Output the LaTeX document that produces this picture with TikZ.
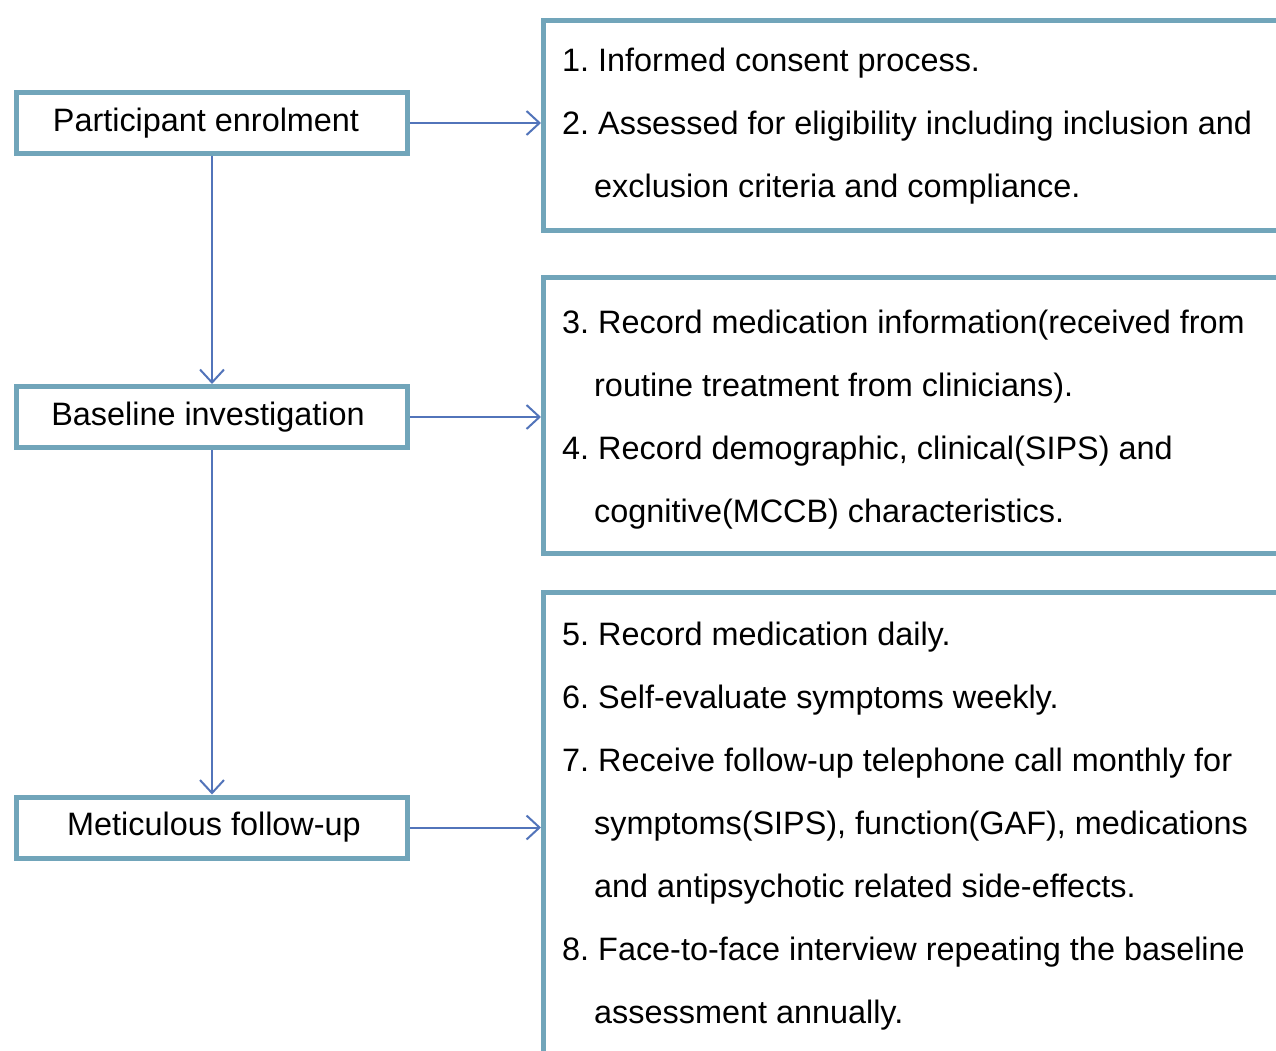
\documentclass[tikz,border=0pt]{standalone}
\usepackage{fontspec}
\setmainfont{Liberation Sans}
\usetikzlibrary{arrows.meta}
\definecolor{boxc}{RGB}{113,165,186}
\definecolor{arrc}{RGB}{82,116,186}
\frenchspacing
\begin{document}
\begin{tikzpicture}[x=1pt,y=-1pt,
  lbox/.style={draw=boxc, line width=5pt, minimum width=391pt, minimum height=61pt, inner sep=0pt, font=\fontsize{32.4}{38}\selectfont},
  rbox/.style={draw=boxc, line width=5pt, anchor=north west, inner sep=0pt},
  arr/.style={draw=arrc, line width=2pt, -{Straight Barb[length=13pt,width=24pt,line width=2pt]}},
  txt/.style={anchor=base west, inner sep=0pt, font=\fontsize{32.4}{38}\selectfont}]
\useasboundingbox (0,0) rectangle (1276,1051);
\clip (0,0) rectangle (1276,1051);
\fill[white] (0,0) rectangle (1276,1051);
% left boxes
\node[lbox] (e1) at (212,123) {Participant enrolment\hspace*{12pt}};
\node[lbox] (e2) at (212,417) {Baseline investigation\hspace*{8pt}};
\node[lbox] (e3) at (212,827.5) {\hspace*{4pt}Meticulous follow-up};
% right boxes (open beyond the page)
\node[rbox, minimum width=800pt, minimum height=210pt] (r1) at (541,18) {};
\node[rbox, minimum width=800pt, minimum height=276pt] (r2) at (541,275) {};
\node[rbox, minimum width=800pt, minimum height=600pt] (r3) at (541,590) {};
% connectors
\draw[arr] (e1.south) -- (e2.north);
\draw[arr] (e2.south) -- (e3.north);
\draw[arr] (e1.east) -- (e1.east -| r1.west);
\draw[arr] (e2.east) -- (e2.east -| r2.west);
\draw[arr] (e3.east) -- (e3.east -| r3.west);
% texts
\node[txt] (t1) at (562,71.5) {1. Informed consent process.};
\node[txt] (t2) at (562,134.5) {2. Assessed for eligibility including inclusion and};
\node[txt] (t3) at (594,197.5) {exclusion criteria and compliance.};
\node[txt] (t4) at (562,333.5) {3. Record medication information(received from};
\node[txt] (t5) at (594,396.5) {routine treatment from clinicians).};
\node[txt] (t6) at (562,459.5) {4. Record demographic, clinical(SIPS) and};
\node[txt] (t7) at (594,522.5) {cognitive(MCCB) characteristics.};
\node[txt] (t8) at (562,645.5) {5. Record medication daily.};
\node[txt] (t9) at (562,708.5) {6. Self-evaluate symptoms weekly.};
\node[txt] (t10) at (562,771.5) {7. Receive follow-up telephone call monthly for};
\node[txt] (t11) at (594,834.5) {symptoms(SIPS), function(GAF), medications};
\node[txt] (t12) at (594,897.5) {and antipsychotic related side-effects.};
\node[txt] (t13) at (562,960.5) {8. Face-to-face interview repeating the baseline};
\node[txt] (t14) at (594,1023.5) {assessment annually.};
\end{tikzpicture}
\end{document}
